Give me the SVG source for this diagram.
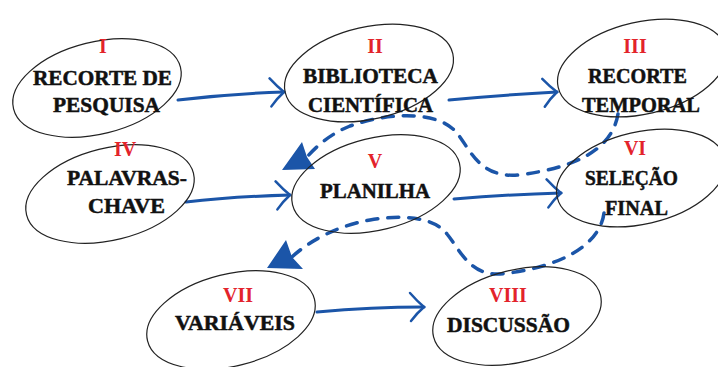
<svg xmlns="http://www.w3.org/2000/svg" width="718" height="367" viewBox="0 0 718 367">
<style>
.ell{fill:none;stroke:#222;stroke-width:1.2}
.num{font-weight:bold;font-size:20px;fill:#e3232b;text-anchor:middle}
.lbl{font-weight:bold;font-size:21px;fill:#111;stroke:#111;stroke-width:0.5;text-anchor:middle}
.con{fill:none;stroke:#1b55a8;stroke-width:3;stroke-linecap:round}
.dash{fill:none;stroke:#1b55a8;stroke-width:3.5;stroke-linecap:round;stroke-dasharray:11 10}
.head{fill:#1b55a8}
</style>
<defs>
<marker id="open" markerUnits="userSpaceOnUse" viewBox="0 0 18 32" refX="16" refY="16" markerWidth="18" markerHeight="32" orient="auto">
<path d="M2,2 Q9,10 16,16 Q9,22 3,30" fill="none" stroke="#1b55a8" stroke-width="2.5" stroke-linecap="round"/>
</marker>
</defs>
<g id="connectors">
<path class="con" d="M178,100 C220,95 250,93 284,92" marker-end="url(#open)"/>
<path class="con" d="M449,100 C490,96 520,94 557,92" marker-end="url(#open)"/>
<path class="con" d="M186,202 C220,198 255,196 290,195" marker-end="url(#open)"/>
<path class="con" d="M454,199 C490,196 525,194 561,193" marker-end="url(#open)"/>
<path class="con" d="M317,312 C350,309 385,307 424,307" marker-end="url(#open)"/>
<path class="dash" d="M618,114 C612,150 575,168 518,175 C478,178 470,148 456,132 C440,113 395,110 350,126 C335,132 320,142 307,157"/>
<polygon class="head" points="302,142 282,170 315,169 307,157"/>
<path class="dash" d="M604,213 C600,245 560,268 500,274 C470,276 460,250 447,234 C435,218 405,214 370,220 C340,225 310,240 292,257"/>
<polygon class="head" points="286,240 267,268 303,269 292,257"/>
</g>
<g font-family="'Liberation Serif', 'DejaVu Serif', serif">
<g id="node1">
<ellipse class="ell" cx="97" cy="88" rx="86" ry="46" transform="rotate(-14 97 88)"/>
<text class="num" x="103" y="53">I</text>
<text class="lbl" x="102.5" y="85" textLength="139" lengthAdjust="spacingAndGlyphs">RECORTE DE</text>
<text class="lbl" x="106.5" y="112" textLength="107" lengthAdjust="spacingAndGlyphs">PESQUISA</text>
</g>
<g id="node2">
<ellipse class="ell" cx="369" cy="73" rx="86" ry="46" transform="rotate(-13 369 73)"/>
<text class="num" x="375" y="53">II</text>
<text class="lbl" x="370.5" y="83" textLength="135" lengthAdjust="spacingAndGlyphs">BIBLIOTECA</text>
<text class="lbl" x="370.5" y="112" textLength="125" lengthAdjust="spacingAndGlyphs">CIENTÍFICA</text>
</g>
<g id="node3">
<ellipse class="ell" cx="642" cy="68" rx="86" ry="46" transform="rotate(-13 642 68)"/>
<text class="num" x="635" y="53">III</text>
<text class="lbl" x="637.5" y="83" textLength="99" lengthAdjust="spacingAndGlyphs">RECORTE</text>
<text class="lbl" x="641" y="112" textLength="118" lengthAdjust="spacingAndGlyphs">TEMPORAL</text>
</g>
<g id="node4">
<ellipse class="ell" cx="110" cy="194" rx="86" ry="46" transform="rotate(-14 110 194)"/>
<text class="num" x="125" y="156">IV</text>
<text class="lbl" x="127" y="185" textLength="120" lengthAdjust="spacingAndGlyphs">PALAVRAS-</text>
<text class="lbl" x="126.5" y="213" textLength="77" lengthAdjust="spacingAndGlyphs">CHAVE</text>
</g>
<g id="node5">
<ellipse class="ell" cx="376" cy="184" rx="86" ry="46" transform="rotate(-14 376 184)"/>
<text class="num" x="375" y="168">V</text>
<text class="lbl" x="375" y="198" textLength="110" lengthAdjust="spacingAndGlyphs">PLANILHA</text>
</g>
<g id="node6">
<ellipse class="ell" cx="641" cy="178" rx="86" ry="46" transform="rotate(-13 641 178)"/>
<text class="num" x="635" y="155">VI</text>
<text class="lbl" x="631.5" y="185" textLength="93" lengthAdjust="spacingAndGlyphs">SELEÇÃO</text>
<text class="lbl" x="636.5" y="215" textLength="63" lengthAdjust="spacingAndGlyphs">FINAL</text>
</g>
<g id="node7">
<ellipse class="ell" cx="231" cy="320" rx="86" ry="46" transform="rotate(-14 231 320)"/>
<text class="num" x="238" y="302">VII</text>
<text class="lbl" x="235" y="330" textLength="120" lengthAdjust="spacingAndGlyphs">VARIÁVEIS</text>
</g>
<g id="node8">
<ellipse class="ell" cx="517" cy="316" rx="86" ry="46" transform="rotate(-14 517 316)"/>
<text class="num" x="508" y="302">VIII</text>
<text class="lbl" x="508.5" y="332" textLength="123" lengthAdjust="spacingAndGlyphs">DISCUSSÃO</text>
</g>
</g>
</svg>
